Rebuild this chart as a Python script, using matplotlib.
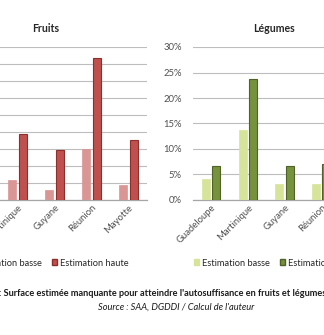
import numpy as np
import matplotlib
matplotlib.use("Agg")
import matplotlib.pyplot as plt
from matplotlib.patches import Patch

plt.rcParams['font.family'] = ['Lato', 'DejaVu Sans']

# categories (DOM)
regions = ["Guadeloupe", "Martinique", "Guyane", "Réunion", "Mayotte"]

# Fruits: estimated missing surface (%)
fruits_basse = [4.0, 5.9, 2.9, 15.0, 4.4]
fruits_haute = [12.0, 19.4, 14.7, 41.8, 17.6]

# Légumes: estimated missing surface (%)
legumes_basse = [4.1, 13.7, 3.1, 3.1, 2.0]
legumes_haute = [6.7, 23.7, 6.7, 7.1, 5.0]

legend_labels = ["Estimation basse", "Estimation haute"]
caption = ": Surface estimée manquante pour atteindre l'autosuffisance en fruits et légumes"
source = "Source : SAA, DGDDI / Calcul de l'auteur"

W, H = 324, 335
fig = plt.figure(figsize=(W / 100, H / 100), dpi=100)


def px_axes(x0, x1, y_top, y_bot):
    return fig.add_axes([x0 / W, 1 - y_bot / H, (x1 - x0) / W, (y_bot - y_top) / H])


def draw_panel(ax, basse, haute, c_basse, c_haute, e_haute, ymax, step):
    x = np.arange(len(regions))
    ax.bar(x - 0.14, basse, width=0.22, color=c_basse, edgecolor=c_basse, linewidth=0.5, zorder=3)
    ax.bar(x + 0.14, haute, width=0.22, color=c_haute, edgecolor=e_haute, linewidth=0.8, zorder=3)
    ax.set_xlim(-0.5, len(regions) - 0.5)
    ax.set_ylim(0, ymax)
    ax.set_yticks(np.arange(0, ymax + 0.01, step))
    ax.yaxis.set_major_formatter(lambda v, p: f"{v:.0f}%")
    ax.grid(axis='y', color='#bdbdbd', linewidth=0.8, zorder=0)
    for s in ['top', 'right', 'left']:
        ax.spines[s].set_visible(False)
    ax.spines['bottom'].set_color('#a6a6a6')
    ax.spines['bottom'].set_linewidth(0.9)
    ax.set_xticks(x)
    ax.set_xticklabels(regions, rotation=45, ha='right', rotation_mode='anchor',
                       fontsize=6.8, color='#505050')
    ax.tick_params(axis='both', length=0, pad=2)
    ax.tick_params(axis='y', labelsize=6.8, labelcolor='#505050', pad=8)


ax1 = px_axes(-38, 147, 47, 200)
draw_panel(ax1, fruits_basse, fruits_haute, '#d99694', '#c0504d', '#8c2f2c', 45, 5)

ax2 = px_axes(193, 376, 47, 200)
draw_panel(ax2, legumes_basse, legumes_haute, '#d6e49a', '#76923c', '#4f6228', 30, 5)

fig.text(46 / W, 1 - 28 / H, "Fruits", ha='center', va='center', fontsize=7.6,
         fontweight='bold', color='#262626')
fig.text(274 / W, 1 - 28 / H, "Légumes", ha='center', va='center', fontsize=7.6,
         fontweight='bold', color='#262626')

for cx, cols in [(47, ('#d99694', '#c0504d', '#8c2f2c')), (275, ('#d6e49a', '#76923c', '#4f6228'))]:
    handles = [Patch(facecolor=cols[0], edgecolor=cols[0]),
               Patch(facecolor=cols[1], edgecolor=cols[2])]
    fig.legend(handles, legend_labels, loc='center', bbox_to_anchor=(cx / W, 1 - 263 / H),
               ncol=2, frameon=False, fontsize=6.7, handlelength=0.55, handleheight=0.55,
               handletextpad=0.3, columnspacing=1.1, labelcolor='#262626')

fig.text(-1 / W, 1 - 294 / H, caption, ha='left', va='center', fontsize=6.6,
         fontweight='bold', color='#1a1a1a')
fig.text(176 / W, 1 - 307 / H, source, ha='center', va='center', fontsize=6.7,
         style='italic', color='#1a1a1a')

fig.savefig("out.png", dpi=100)
